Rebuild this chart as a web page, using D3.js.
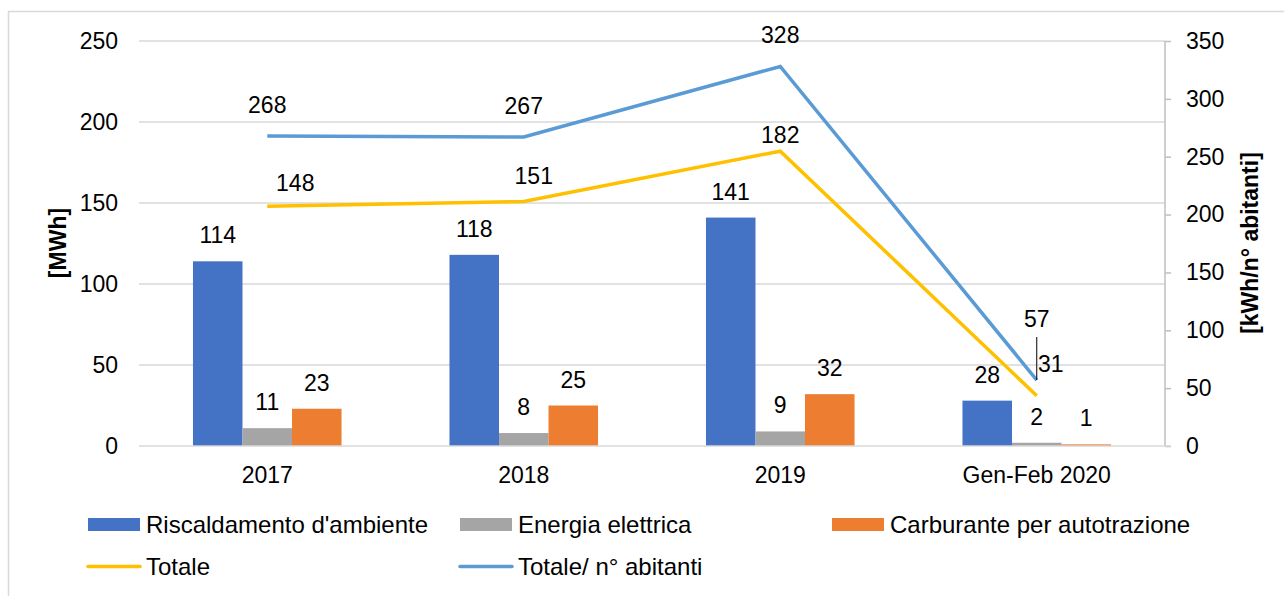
<!DOCTYPE html>
<meta charset="utf-8">
<style>
  body { margin: 0; background: #fff; }
  text { font-family: "Liberation Sans", Arial, sans-serif; fill: #000; }
</style>
<body>
<div id="chart"></div>
<script src="https://d3js.org/d3.v7.min.js"></script>
<script>

// data
var categories = ["2017", "2018", "2019", "Gen-Feb 2020"];
var riscaldamento = [114, 118, 141, 28];
var energia = [11, 8, 9, 2];
var carburante = [23, 25, 32, 1];
var totale = [148, 151, 182, 31];
var totaleAbitanti = [268, 267, 328, 57];
var leftTicks = [0, 50, 100, 150, 200, 250];
var rightTicks = [0, 50, 100, 150, 200, 250, 300, 350];

// manual label nudges (px) as they sit in the original
var totaleNudge = [[28, 5], [10, 3], [0, 12], [0, 0]];

var width = 1284, height = 596;

var svg = d3.select("#chart").append("svg")
  .attr("width", width)
  .attr("height", height);

// chart border
svg.append("rect")
  .attr("x", 8.5).attr("y", 11.5)
  .attr("width", 1300).attr("height", 620)
  .style("fill", "none").style("stroke", "#d9d9d9").style("stroke-width", 1.5);

var x = d3.scaleBand().domain(categories).range([139, 1165]);
var yL = d3.scaleLinear().domain([0, 250]).range([446, 41]);
var yR = d3.scaleLinear().domain([0, 350]).range([446, 41]);

var barSeries = [
  { name: "Riscaldamento d'ambiente", values: riscaldamento, color: "#4472C4" },
  { name: "Energia elettrica", values: energia, color: "#A5A5A5" },
  { name: "Carburante per autotrazione", values: carburante, color: "#ED7D31" }
];
var x1 = d3.scaleBand().domain(barSeries.map(function(s) { return s.name; }))
  .range([0, x.bandwidth()]).paddingInner(0).paddingOuter(1.09);

// gridlines
svg.append("g").selectAll("line").data(leftTicks.slice(1)).enter().append("line")
  .attr("x1", 139).attr("x2", 1165)
  .attr("y1", function(d) { return yL(d); })
  .attr("y2", function(d) { return yL(d); })
  .style("stroke", "#d9d9d9").style("stroke-width", 1.5);

// left tick labels
svg.append("g").selectAll("text").data(leftTicks).enter().append("text")
  .attr("x", 118)
  .attr("y", function(d) { return yL(d); })
  .attr("dy", "0.35em")
  .attr("text-anchor", "end")
  .style("font-size", "23px")
  .text(function(d) { return d; });

// right axis
var rAxis = svg.append("g").attr("transform", "translate(1165,0)")
  .call(d3.axisRight(yR).tickValues(rightTicks).tickSize(6).tickPadding(15));
rAxis.select(".domain").style("stroke", "#bfbfbf").style("stroke-width", 1.5)
  .attr("d", "M0," + yR(0) + "V" + yR(350));
rAxis.selectAll(".tick line").style("stroke", "#bfbfbf").style("stroke-width", 1.5);
rAxis.selectAll(".tick text").style("font-size", "23px").style("font-family", "Liberation Sans, Arial, sans-serif").attr("fill", "#000");

// axis titles
svg.append("text")
  .attr("transform", "translate(66,243) rotate(-90)")
  .attr("text-anchor", "middle")
  .style("font-size", "23px").style("font-weight", "bold")
  .text("[MWh]");
svg.append("text")
  .attr("transform", "translate(1258,243) rotate(-90)")
  .attr("text-anchor", "middle")
  .style("font-size", "23px").style("font-weight", "bold")
  .text("[kWh/n° abitanti]");

// bars
barSeries.forEach(function(s) {
  var g = svg.append("g");
  g.selectAll("rect").data(s.values).enter().append("rect")
    .attr("x", function(d, i) { return x(categories[i]) + x1(s.name); })
    .attr("y", function(d) { return yL(d); })
    .attr("width", x1.bandwidth())
    .attr("height", function(d) { return yL(0) - yL(d); })
    .style("fill", s.color);
  g.selectAll("text").data(s.values).enter().append("text")
    .attr("x", function(d, i) { return x(categories[i]) + x1(s.name) + x1.bandwidth() / 2; })
    .attr("y", function(d) { return yL(d) - 18; })
    .attr("text-anchor", "middle")
    .style("font-size", "23px")
    .text(function(d) { return d; });
});

// bottom axis line
svg.append("line")
  .attr("x1", 139).attr("x2", 1171)
  .attr("y1", yL(0)).attr("y2", yL(0))
  .style("stroke", "#d9d9d9").style("stroke-width", 1.5);

// x labels
svg.append("g").selectAll("text").data(categories).enter().append("text")
  .attr("x", function(d) { return x(d) + x.bandwidth() / 2; })
  .attr("y", 483)
  .attr("text-anchor", "middle")
  .style("font-size", "23px")
  .text(function(d) { return d; });

function cx(i) { return x(categories[i]) + x.bandwidth() / 2; }

// lines
var lineL = d3.line().x(function(d, i) { return cx(i); }).y(function(d) { return yL(d); });
var lineR = d3.line().x(function(d, i) { return cx(i); }).y(function(d) { return yR(d); });

svg.append("path").datum(totale).attr("d", lineL)
  .style("fill", "none").style("stroke", "#FFC000").style("stroke-width", 3.5);
svg.append("path").datum(totaleAbitanti).attr("d", lineR)
  .style("fill", "none").style("stroke", "#5B9BD5").style("stroke-width", 3.5);

// line labels
svg.append("g").selectAll("text").data(totaleAbitanti).enter().append("text")
  .attr("x", function(d, i) { return cx(i); })
  .attr("y", function(d, i) { return i == 3 ? 327 : yR(d) - 23; })
  .attr("text-anchor", "middle")
  .style("font-size", "23px")
  .text(function(d) { return d; });

svg.append("g").selectAll("text").data(totale).enter().append("text")
  .attr("x", function(d, i) { return i == 3 ? cx(i) + 14 : cx(i) + totaleNudge[i][0]; })
  .attr("y", function(d, i) { return i == 3 ? 372 : yL(d) - 20 + totaleNudge[i][1]; })
  .attr("text-anchor", "middle")
  .style("font-size", "23px")
  .text(function(d) { return d; });

// leader line for the last Totale label
svg.append("line")
  .attr("x1", cx(3)).attr("x2", cx(3))
  .attr("y1", 337).attr("y2", yR(totaleAbitanti[3]))
  .style("stroke", "#000").style("stroke-width", 1);

// legend
var legendItems = [
  { name: barSeries[0].name, color: barSeries[0].color, type: "rect", col: 0, row: 0 },
  { name: barSeries[1].name, color: barSeries[1].color, type: "rect", col: 1, row: 0 },
  { name: barSeries[2].name, color: barSeries[2].color, type: "rect", col: 2, row: 0 },
  { name: "Totale", color: "#FFC000", type: "line", col: 0, row: 1 },
  { name: "Totale/ n° abitanti", color: "#5B9BD5", type: "line", col: 1, row: 1 }
];
var leg = svg.append("g").selectAll("g").data(legendItems).enter().append("g")
  .attr("transform", function(d) { return "translate(" + (88 + d.col * 372) + "," + (524.5 + d.row * 42) + ")"; });
leg.filter(function(d) { return d.type == "rect"; }).append("rect")
  .attr("x", 0).attr("y", -6.5).attr("width", 52).attr("height", 13)
  .style("fill", function(d) { return d.color; });
leg.filter(function(d) { return d.type == "line"; }).append("line")
  .attr("x1", 0).attr("x2", 52).attr("y1", 0).attr("y2", 0)
  .style("stroke", function(d) { return d.color; }).style("stroke-width", 3.5)
  .style("stroke-linecap", "round");
leg.append("text")
  .attr("x", 58).attr("y", 0).attr("dy", "0.35em")
  .style("font-size", "24px")
  .text(function(d) { return d.name; });

</script>
</body>
